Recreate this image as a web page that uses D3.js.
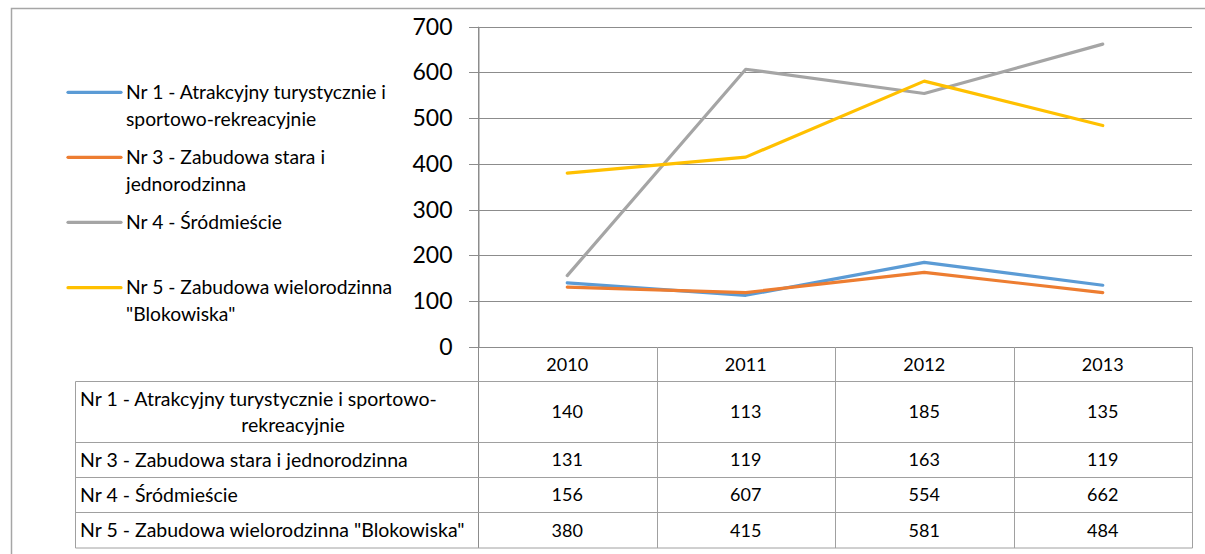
<!DOCTYPE html>
<html>
<head>
<meta charset="utf-8">
<script src="https://cdn.jsdelivr.net/npm/d3@7"></script>
<style>
  html, body { margin: 0; padding: 0; background: #fff; overflow: hidden; }
  svg { display: block; font-family: Lato, "Noto Sans", sans-serif; }
</style>
</head>
<body>
<svg id="chart" width="1205" height="554"></svg>
<script>
// data
var years = ["2010", "2011", "2012", "2013"];
var seriesNames = [
  "Nr 1 - Atrakcyjny turystycznie i sportowo-rekreacyjnie",
  "Nr 3 - Zabudowa stara i jednorodzinna",
  "Nr 4 - Śródmieście",
  "Nr 5 - Zabudowa wielorodzinna \"Blokowiska\""
];
var nr1 = [140, 113, 185, 135];
var nr3 = [131, 119, 163, 119];
var nr4 = [156, 607, 554, 662];
var nr5 = [380, 415, 581, 484];
var yTicks = [0, 100, 200, 300, 400, 500, 600, 700];

// wrapped labels as they appear in the legend and in the table
var legendLines = [
  ["Nr 1 - Atrakcyjny turystycznie i", "sportowo-rekreacyjnie"],
  ["Nr 3 - Zabudowa stara i", "jednorodzinna"],
  ["Nr 4 - Śródmieście"],
  ["Nr 5 - Zabudowa wielorodzinna", "\"Blokowiska\""]
];
var tableLines = [
  ["Nr 1 - Atrakcyjny turystycznie i sportowo-", "rekreacyjnie"],
  ["Nr 3 - Zabudowa stara i jednorodzinna"],
  ["Nr 4 - Śródmieście"],
  ["Nr 5 - Zabudowa wielorodzinna \"Blokowiska\""]
];

var colors = ["#5B9BD5", "#ED7D31", "#A5A5A5", "#FFC000"];

var series = [nr1, nr3, nr4, nr5].map(function (values, i) {
  return {
    name: seriesNames[i],
    color: colors[i],
    values: values.map(function (v, j) { return { year: years[j], value: v }; })
  };
});

var svg = d3.select("#chart");

var plotLeft = 478, plotRight = 1192, plotTop = 26.7, plotBottom = 347;

var x = d3.scaleBand().domain(years).range([plotLeft, plotRight]);
var y = d3.scaleLinear().domain([0, 700]).range([plotBottom, plotTop]);

var gridColor = "#8c8c8c";
var tableColor = "#a0a0a0";

// outer chart frame (only top and left edges are inside the picture)
svg.append("path")
  .attr("d", "M11.5,554V8.5H1205")
  .style("fill", "none")
  .style("stroke", "#a6a6a6")
  .style("stroke-width", 1.5);

// horizontal gridlines
svg.append("g")
  .selectAll("line")
  .data(yTicks)
  .enter()
  .append("line")
  .attr("x1", plotLeft - 9)
  .attr("x2", plotRight)
  .attr("y1", function (d) { return Math.round(y(d)) + 0.5; })
  .attr("y2", function (d) { return Math.round(y(d)) + 0.5; })
  .style("stroke", gridColor)
  .style("stroke-width", 1);

// value axis
var yAxis = svg.append("g")
  .attr("transform", "translate(" + (plotLeft + 0.5) + ",0)")
  .call(d3.axisLeft(y).tickValues(yTicks).tickSize(0).tickPadding(26));
yAxis.select(".domain").style("stroke", gridColor);
yAxis.selectAll("text")
  .style("font-family", "Lato, 'Noto Sans', sans-serif")
  .style("font-size", "23px")
  .style("fill", "#000");

// data table under the plot
var rowTops = [381.5, 442.5, 477.5, 512.5];
var rowBottoms = [442.5, 477.5, 512.5, 548];
var headerTop = 347, tableLeft = 75.5;
var numSize = "18px", labelSize = "19.5px";

var table = svg.append("g").attr("class", "data-table");

// column separators
table.selectAll(".col-line")
  .data(years.concat(["end"]))
  .enter()
  .append("line")
  .attr("x1", function (d, i) { return Math.round(plotLeft + i * x.bandwidth()) + 0.5; })
  .attr("x2", function (d, i) { return Math.round(plotLeft + i * x.bandwidth()) + 0.5; })
  .attr("y1", function (d, i) { return i === 0 ? plotTop : headerTop; })
  .attr("y2", rowBottoms[3])
  .style("stroke", function (d, i) { return i === 0 ? gridColor : tableColor; })
  .style("stroke-width", 1);

// row separators
table.selectAll(".row-line")
  .data(rowTops.concat([rowBottoms[3]]))
  .enter()
  .append("line")
  .attr("x1", tableLeft)
  .attr("x2", plotRight + 0.5)
  .attr("y1", function (d) { return d; })
  .attr("y2", function (d) { return d; })
  .style("stroke", tableColor)
  .style("stroke-width", 1);

table.append("line")
  .attr("x1", tableLeft).attr("x2", tableLeft)
  .attr("y1", rowTops[0]).attr("y2", rowBottoms[3])
  .style("stroke", tableColor);

// year headers
table.selectAll(".year")
  .data(years)
  .enter()
  .append("text")
  .attr("x", function (d) { return x(d) + x.bandwidth() / 2; })
  .attr("y", (headerTop + rowTops[0]) / 2)
  .attr("dy", "0.35em")
  .attr("text-anchor", "middle")
  .style("font-size", numSize)
  .text(function (d) { return d; });

// row labels and values
series.forEach(function (s, i) {
  var mid = (rowTops[i] + rowBottoms[i]) / 2;
  var lines = tableLines[i];
  lines.forEach(function (line, k) {
    var t = table.append("text")
      .attr("y", mid + (k - (lines.length - 1) / 2) * 26)
      .attr("dy", "0.35em")
      .style("font-size", labelSize)
      .text(line);
    if (k === 0) {
      t.attr("x", 80);
    } else {
      t.attr("x", 293).attr("text-anchor", "middle");
    }
  });

  table.selectAll(".val-" + i)
    .data(s.values)
    .enter()
    .append("text")
    .attr("x", function (d) { return x(d.year) + x.bandwidth() / 2; })
    .attr("y", mid)
    .attr("dy", "0.35em")
    .attr("text-anchor", "middle")
    .style("font-size", numSize)
    .text(function (d) { return d.value; });
});

// lines
var line = d3.line()
  .x(function (d) { return x(d.year) + x.bandwidth() / 2; })
  .y(function (d) { return y(d.value); });

svg.append("g")
  .selectAll("path")
  .data(series)
  .enter()
  .append("path")
  .attr("d", function (d) { return line(d.values); })
  .style("fill", "none")
  .style("stroke", function (d) { return d.color; })
  .style("stroke-width", 3.2)
  .style("stroke-linecap", "round")
  .style("stroke-linejoin", "round");

// legend on the left
var legendY = [92.3, 157.3, 222.3, 287.7];
var legend = svg.append("g").attr("class", "legend");

series.forEach(function (s, i) {
  var g = legend.append("g");
  g.append("line")
    .attr("x1", 68).attr("x2", 121)
    .attr("y1", legendY[i]).attr("y2", legendY[i])
    .style("stroke", s.color)
    .style("stroke-width", 3.2)
    .style("stroke-linecap", "round");
  legendLines[i].forEach(function (txt, k) {
    g.append("text")
      .attr("x", 126)
      .attr("y", legendY[i] + k * 26.5)
      .attr("dy", "0.35em")
      .style("font-size", "19.3px")
      .text(txt);
  });
});
</script>
</body>
</html>
